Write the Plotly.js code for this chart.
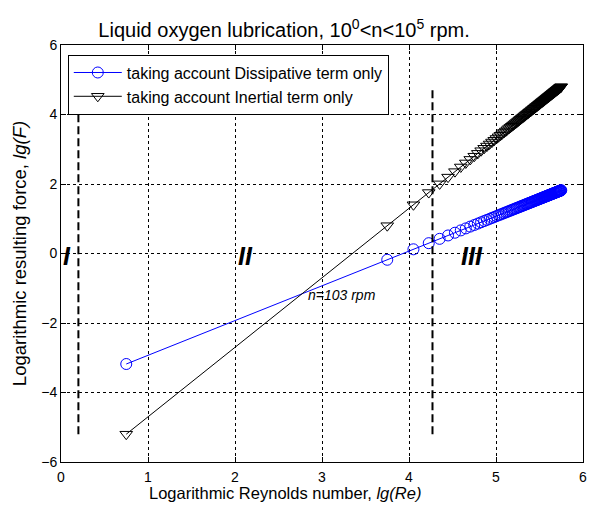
<!DOCTYPE html>
<html>
<head>
<meta charset="utf-8">
<script src="https://cdn.plot.ly/plotly-3.0.1.min.js"></script>
<style>html,body{margin:0;padding:0;background:#fff;}#chart{width:593px;height:510px;}</style>
</head>
<body>
<div id="chart"></div>
<script>
// lg(Re) for n = 1, 1000, 2000, ..., 100000 rpm
var lgRe = [0.75, 3.75, 4.051, 4.227, 4.352, 4.449, 4.528, 4.595, 4.653, 4.704, 4.75, 4.791, 4.829, 4.864, 4.896, 4.926, 4.954, 4.98, 5.005, 5.029, 5.051, 5.072, 5.092, 5.112, 5.13, 5.148, 5.165, 5.181, 5.197, 5.212, 5.227, 5.241, 5.255, 5.269, 5.281, 5.294, 5.306, 5.318, 5.33, 5.341, 5.352, 5.363, 5.373, 5.383, 5.393, 5.403, 5.413, 5.422, 5.431, 5.44, 5.449, 5.458, 5.466, 5.474, 5.482, 5.49, 5.498, 5.506, 5.513, 5.521, 5.528, 5.535, 5.542, 5.549, 5.556, 5.563, 5.57, 5.576, 5.583, 5.589, 5.595, 5.601, 5.607, 5.613, 5.619, 5.625, 5.631, 5.636, 5.642, 5.648, 5.653, 5.658, 5.664, 5.669, 5.674, 5.679, 5.684, 5.69, 5.694, 5.699, 5.704, 5.709, 5.714, 5.718, 5.723, 5.728, 5.732, 5.737, 5.741, 5.746, 5.75];
var lgF_dissipative = [-3.18, -0.18, 0.121, 0.297, 0.422, 0.519, 0.598, 0.665, 0.723, 0.774, 0.82, 0.861, 0.899, 0.934, 0.966, 0.996, 1.024, 1.05, 1.075, 1.099, 1.121, 1.142, 1.162, 1.182, 1.2, 1.218, 1.235, 1.251, 1.267, 1.282, 1.297, 1.311, 1.325, 1.339, 1.351, 1.364, 1.376, 1.388, 1.4, 1.411, 1.422, 1.433, 1.443, 1.453, 1.463, 1.473, 1.483, 1.492, 1.501, 1.51, 1.519, 1.528, 1.536, 1.544, 1.552, 1.56, 1.568, 1.576, 1.583, 1.591, 1.598, 1.605, 1.612, 1.619, 1.626, 1.633, 1.64, 1.646, 1.653, 1.659, 1.665, 1.671, 1.677, 1.683, 1.689, 1.695, 1.701, 1.706, 1.712, 1.718, 1.723, 1.728, 1.734, 1.739, 1.744, 1.749, 1.754, 1.76, 1.764, 1.769, 1.774, 1.779, 1.784, 1.788, 1.793, 1.798, 1.802, 1.807, 1.811, 1.816, 1.82];
var lgF_inertial = [-5.2, 0.8, 1.402, 1.754, 2.004, 2.198, 2.356, 2.49, 2.606, 2.708, 2.8, 2.882, 2.958, 3.028, 3.092, 3.152, 3.208, 3.26, 3.31, 3.358, 3.402, 3.444, 3.484, 3.524, 3.56, 3.596, 3.63, 3.662, 3.694, 3.724, 3.754, 3.782, 3.81, 3.838, 3.862, 3.888, 3.912, 3.936, 3.96, 3.982, 4.004, 4.026, 4.046, 4.066, 4.086, 4.106, 4.126, 4.144, 4.162, 4.18, 4.198, 4.216, 4.232, 4.248, 4.264, 4.28, 4.296, 4.312, 4.326, 4.342, 4.356, 4.37, 4.384, 4.398, 4.412, 4.426, 4.44, 4.452, 4.466, 4.478, 4.49, 4.502, 4.514, 4.526, 4.538, 4.55, 4.562, 4.572, 4.584, 4.596, 4.606, 4.616, 4.628, 4.638, 4.648, 4.658, 4.668, 4.68, 4.688, 4.698, 4.708, 4.718, 4.728, 4.736, 4.746, 4.756, 4.764, 4.774, 4.782, 4.792, 4.8];

var seriesNames = ['taking account Dissipative term only', 'taking account Inertial term only'];
var tickVals = [-6, -4, -2, 0, 2, 4, 6];
var xTickVals = [0, 1, 2, 3, 4, 5, 6];

// Region boundaries (lg(Re)) and their extents (lg(F))
var boundaryX = [0.2, 4.27];
var boundaryTop = [4.07, 4.77];
var boundaryBottom = [-5.2, -5.2];
var regionLabels = ['I', 'II', 'III'];
var regionLabelX = [0.0, 2.01, 4.58];
var regionLabelY = [-0.08, -0.08, -0.08];
var crossLabel = 'n=103 rpm';
var crossX = 2.82, crossY = -1.2;

var font = 'Liberation Sans, Arial, sans-serif';

var traces = [
  {x: lgRe, y: lgF_dissipative, name: seriesNames[0], type: 'scatter', mode: 'lines+markers',
   line: {color: '#0000ff', width: 1},
   marker: {symbol: 'circle-open', size: 11, color: '#0000ff', line: {width: 1}}},
  {x: lgRe, y: lgF_inertial, name: seriesNames[1], type: 'scatter', mode: 'lines+markers',
   line: {color: '#000000', width: 1},
   marker: {symbol: 'triangle-down-open', size: 11, color: '#000000', line: {width: 1}}}
];

var shapes = boundaryX.map(function (bx, i) {
  return {type: 'line', xref: 'x', yref: 'y', x0: bx, x1: bx, y0: boundaryBottom[i], y1: boundaryTop[i],
          line: {color: '#000', width: 2, dash: '8px,4px'}};
});

var annotations = regionLabels.map(function (t, i) {
  return {x: regionLabelX[i], y: regionLabelY[i], xref: 'x', yref: 'y', text: '<b><i>' + t + '</i></b>',
          showarrow: false, xanchor: 'left', yanchor: 'middle', font: {family: font, size: 25, color: '#000'}};
});
annotations.push({x: crossX, y: crossY, xref: 'x', yref: 'y', text: '<i>' + crossLabel + '</i>', showarrow: false,
                  xanchor: 'left', yanchor: 'middle', font: {family: font, size: 14, color: '#000'}});
// x-axis title
annotations.push({x: 0.429, y: (462 - 493) / 417, xref: 'paper', yref: 'paper', text: 'Logarithmic Reynolds number, <i>lg(Re)</i>',
                  showarrow: false, xanchor: 'center', yanchor: 'middle', font: {family: font, size: 16.5, color: '#000'}});

var axisCommon = {
  showline: true, linecolor: '#000', linewidth: 1, mirror: 'ticks',
  ticks: 'inside', ticklen: 5, tickcolor: '#000', tickwidth: 1,
  showgrid: true, gridcolor: '#000', gridwidth: 1, griddash: '3px,3px',
  zeroline: false, tickfont: {family: font, size: 14, color: '#000'}
};

var layout = {
  width: 593, height: 510,
  margin: {l: 61, r: 10, t: 45, b: 48},
  paper_bgcolor: '#fff', plot_bgcolor: '#fff',
  font: {family: font, color: '#000'},
  title: {text: 'Liquid oxygen lubrication, 10<sup>0</sup><n<10<sup>5</sup> rpm.', x: 0.479, xref: 'container',
          xanchor: 'center', y: 0.955, yref: 'container', font: {family: font, size: 20, color: '#000'}},
  xaxis: Object.assign({}, axisCommon, {range: [0, 6], tickvals: xTickVals, ticklabelstandoff: 2}),
  yaxis: Object.assign({}, axisCommon, {range: [-6, 6], tickvals: tickVals,
          title: {text: 'Logarithmic resulting force, <i>lg(F)</i>', standoff: 9, font: {family: font, size: 18.5, color: '#000'}}}),
  showlegend: true,
  legend: {x: 0.013, y: 0.977, xanchor: 'left', yanchor: 'top', bgcolor: '#fff', bordercolor: '#000', borderwidth: 1,
           font: {family: font, size: 16, color: '#000'}, tracegroupgap: 0, itemwidth: 48},
  shapes: shapes,
  annotations: annotations
};

Plotly.newPlot('chart', traces, layout, {displayModeBar: false, staticPlot: true});
</script>
</body>
</html>
